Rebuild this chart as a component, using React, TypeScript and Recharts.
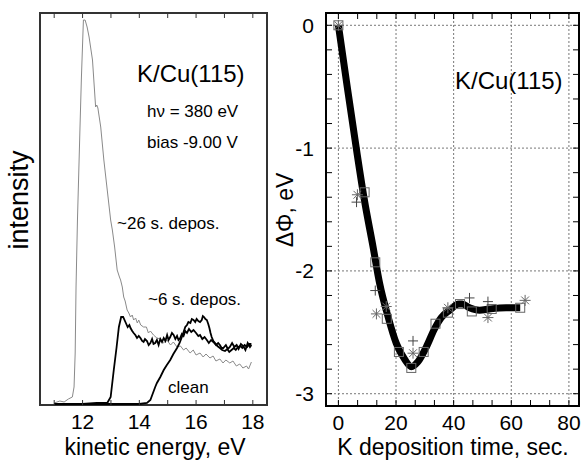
import React from 'react';
import {
  LineChart,
  Line,
  XAxis,
  YAxis,
  ComposedChart,
  Scatter,
  CartesianGrid,
  ReferenceArea,
} from 'recharts';

const FONT = '"Liberation Sans", Arial, Helvetica, sans-serif';

// ---- left panel: spectra, [kinetic energy eV, intensity arb.u.] ----
const energyTicks = [11, 12, 13, 14, 15, 16, 17, 18];
const energyDomain: [number, number] = [10.5, 18.5];
const intensityDomain: [number, number] = [0, 392];

const spec26s: [number, number][] = [
  [11.0, 2], [11.2, 4], [11.35, 3], [11.5, 6], [11.64, 8], [11.7, 18], [11.74, 52],
  [11.77, 118], [11.82, 185], [11.91, 278], [11.96, 328], [12.03, 385], [12.09, 385],
  [12.16, 378], [12.23, 368], [12.35, 345], [12.46, 298], [12.5, 300], [12.54, 297],
  [12.64, 278], [12.75, 245], [12.87, 215], [12.99, 185], [13.05, 175], [13.13, 158],
  [13.22, 135], [13.3, 128], [13.34, 125], [13.4, 118], [13.45, 108], [13.5, 104],
  [13.57, 95], [13.63, 92], [13.69, 88], [13.75, 90], [13.8, 85], [13.87, 87],
  [13.93, 82], [13.98, 85], [14.05, 80], [14.15, 78], [14.25, 78], [14.32, 72],
  [14.39, 74], [14.5, 70], [14.62, 67], [14.75, 66], [14.85, 62], [14.97, 65],
  [15.1, 60], [15.2, 63], [15.33, 58], [15.45, 59], [15.56, 55], [15.65, 57],
  [15.79, 52], [15.9, 55], [16.0, 50], [16.14, 52], [16.25, 48], [16.35, 51],
  [16.49, 47], [16.6, 49], [16.7, 44], [16.84, 46], [16.95, 42], [17.05, 45],
  [17.19, 42], [17.3, 44], [17.42, 39], [17.54, 41], [17.65, 37], [17.78, 39],
  [17.85, 36], [17.95, 43],
];

const spec6s: [number, number][] = [
  [11.0, 1], [11.5, 1], [12.0, 1], [12.5, 2], [12.87, 2], [12.99, 8], [13.1, 35],
  [13.2, 58], [13.28, 78], [13.36, 88], [13.43, 88], [13.51, 83], [13.59, 78],
  [13.65, 80], [13.69, 77], [13.75, 74], [13.8, 72], [13.86, 70], [13.92, 67],
  [13.98, 69], [14.04, 67], [14.1, 64], [14.15, 63], [14.2, 66], [14.27, 64],
  [14.33, 60], [14.39, 62], [14.45, 66], [14.5, 61], [14.56, 62], [14.62, 65],
  [14.68, 60], [14.74, 66], [14.8, 63], [14.86, 67], [14.92, 64], [14.98, 70],
  [15.03, 65], [15.09, 68], [15.15, 72], [15.21, 70], [15.27, 66], [15.33, 69],
  [15.38, 65], [15.44, 67], [15.5, 71], [15.56, 69], [15.62, 74], [15.68, 72],
  [15.75, 76], [15.83, 73], [15.91, 75], [16.0, 72], [16.08, 69], [16.14, 70],
  [16.22, 66], [16.3, 68], [16.38, 65], [16.45, 62], [16.53, 65], [16.61, 63],
  [16.7, 60], [16.78, 62], [16.84, 60], [16.9, 57], [16.96, 57], [17.05, 60],
  [17.12, 56], [17.19, 58], [17.27, 62], [17.35, 58], [17.43, 60], [17.5, 56],
  [17.58, 61], [17.66, 59], [17.74, 55], [17.82, 62], [17.9, 58], [17.95, 60],
];

const specClean: [number, number][] = [
  [11.0, 1], [12.0, 1], [13.0, 1], [14.0, 1], [14.27, 2], [14.39, 5], [14.56, 18],
  [14.62, 22], [14.74, 28], [14.86, 35], [14.97, 40], [15.09, 45], [15.2, 51],
  [15.33, 57], [15.42, 62], [15.5, 68], [15.56, 73], [15.62, 78], [15.68, 80],
  [15.73, 83], [15.8, 82], [15.85, 86], [15.91, 85], [15.97, 83], [16.02, 86],
  [16.08, 84], [16.14, 83], [16.2, 85], [16.24, 89], [16.28, 88], [16.33, 86],
  [16.38, 85], [16.43, 81], [16.47, 77], [16.51, 72], [16.55, 68], [16.61, 64],
  [16.67, 62], [16.75, 59], [16.84, 57], [16.92, 55], [17.02, 54], [17.1, 56],
  [17.17, 53], [17.25, 55], [17.33, 57], [17.4, 55], [17.48, 58], [17.56, 59],
  [17.63, 57], [17.71, 60], [17.8, 58], [17.88, 61], [17.95, 61],
];

// ---- right panel: work function change vs. K deposition time ----
const timeTicks = [0, 6.67, 13.33, 20, 26.67, 33.33, 40, 46.67, 53.33, 60, 66.67, 73.33, 80];
const timeGrid = [0, 20, 40, 60, 80];
const timeDomain: [number, number] = [-4.3, 83.5];
const phiTicks = [
  0, -0.2, -0.4, -0.6, -0.8, -1, -1.2, -1.4, -1.6, -1.8, -2,
  -2.2, -2.4, -2.6, -2.8, -3,
];
const phiGrid = [0, -1, -2, -3];
const phiDomain: [number, number] = [-3.1, 0.1];

const fitCurve: [number, number][] = [
  [0, 0], [3, -0.49], [6.2, -1.0], [9, -1.42], [12, -1.8], [14.3, -2.1],
  [17.2, -2.37], [20.1, -2.59], [23, -2.72], [25.3, -2.78], [27.6, -2.74],
  [30.5, -2.62], [33.4, -2.47], [35.7, -2.38], [38.6, -2.32], [41.8, -2.27],
  [43, -2.27], [45.5, -2.3], [49, -2.32], [52.4, -2.31], [58.2, -2.3], [63.1, -2.3],
];

const squarePts: [number, number][] = [
  [0, 0], [9.1, -1.36], [12.8, -1.93], [16.8, -2.39], [21.0, -2.66], [25.3, -2.79],
  [29.6, -2.66], [33.7, -2.43], [38.0, -2.34], [42.2, -2.27], [46.3, -2.33],
  [53.2, -2.31], [63.1, -2.3],
];
const plusPts: [number, number][] = [
  [6.3, -1.44], [12.8, -2.16], [25.9, -2.57], [45.5, -2.22], [51.9, -2.25],
];
const starPts: [number, number][] = [
  [0, 0], [6.6, -1.38], [13.2, -2.35], [16.6, -2.29], [25.9, -2.67], [38.0, -2.3],
  [51.9, -2.38], [64.8, -2.24],
];

const toPts = (a: [number, number][]) => a.map(([x, y]) => ({ x, y }));

const MARK = '#666';

const SquareMark = (p: any) => (
  <rect x={p.cx - 4.5} y={p.cy - 4.5} width={9} height={9} fill="none" stroke={MARK} strokeWidth={1} />
);
const PlusMark = (p: any) => (
  <path d={`M${p.cx - 5},${p.cy}H${p.cx + 5}M${p.cx},${p.cy - 5}V${p.cy + 5}`} stroke="#444" strokeWidth={1} fill="none" />
);
const StarMark = (p: any) => {
  const r = 5.5;
  const d = r * 0.7071;
  return (
    <path
      d={`M${p.cx - r},${p.cy}H${p.cx + r}M${p.cx},${p.cy - r}V${p.cy + r}` +
        `M${p.cx - d},${p.cy - d}L${p.cx + d},${p.cy + d}M${p.cx - d},${p.cy + d}L${p.cx + d},${p.cy - d}`}
      stroke={MARK}
      strokeWidth={1}
      fill="none"
    />
  );
};

// x tick: inward mark on bottom and top frame, label below (gnuplot style)
const makeXTick = (top: number, bottom: number, len: number, color: string, fmt: (v: number) => string) =>
  (p: any) => {
    const s = fmt(p.payload.value);
    return (
      <g>
        <line x1={p.x} x2={p.x} y1={bottom} y2={bottom - len} stroke={color} strokeWidth={1} />
        <line x1={p.x} x2={p.x} y1={top} y2={top + len} stroke={color} strokeWidth={1} />
        {s ? (
          <text x={p.x} y={bottom + 24} textAnchor="middle" fontSize={21} fontFamily={FONT} fill="#000">
            {s}
          </text>
        ) : null}
      </g>
    );
  };

// y tick: inward mark on left and right frame, label left of the frame
const makeYTick = (left: number, right: number, len: number, fmt: (v: number) => string) =>
  (p: any) => {
    const s = fmt(p.payload.value);
    return (
      <g>
        <line x1={left} x2={left + len} y1={p.y} y2={p.y} stroke="#000" strokeWidth={1} />
        <line x1={right} x2={right - len} y1={p.y} y2={p.y} stroke="#000" strokeWidth={1} />
        {s ? (
          <text x={left - 12} y={p.y + 7.5} textAnchor="end" fontSize={21} fontFamily={FONT} fill="#000">
            {s}
          </text>
        ) : null}
      </g>
    );
  };

const energyLabel = (v: number) => (v % 2 === 0 ? String(v) : '');
const timeLabel = (v: number) => (Math.abs(v / 20 - Math.round(v / 20)) < 1e-3 ? String(Math.round(v)) : '');
const phiLabel = (v: number) => (Math.abs(v - Math.round(v)) < 1e-6 ? String(Math.round(v)) : '');

function SpectraPanel() {
  // plot box: x 40..267, y 13..405
  return (
    <LineChart width={292} height={461} margin={{ top: 13, right: 25, left: 40, bottom: 26 }}>
      <XAxis
        dataKey="x"
        type="number"
        domain={energyDomain}
        allowDataOverflow
        ticks={energyTicks}
        interval={0}
        height={30}
        tickLine={false}
        axisLine={false}
        tick={makeXTick(13, 405, 5, '#333', energyLabel)}
      />
      <YAxis type="number" domain={intensityDomain} allowDataOverflow hide />
      <Line data={toPts(spec26s)} dataKey="y" type="linear" stroke="#8a8a8a" strokeWidth={1} dot={false} isAnimationActive={false} />
      <Line data={toPts(specClean)} dataKey="y" type="linear" stroke="#000" strokeWidth={1.8} dot={false} isAnimationActive={false} />
      <Line data={toPts(spec6s)} dataKey="y" type="linear" stroke="#000" strokeWidth={1.8} dot={false} isAnimationActive={false} />
      <ReferenceArea
        x1={energyDomain[0]}
        x2={energyDomain[1]}
        y1={intensityDomain[0]}
        y2={intensityDomain[1]}
        fill="none"
        stroke="#333"
        strokeWidth={2}
        ifOverflow="visible"
      />
    </LineChart>
  );
}

function WorkFunctionPanel() {
  // chart sits at page x=270; plot box: x 56..309 (page 326..579), y 13..406
  return (
    <ComposedChart width={314} height={461} margin={{ top: 13, right: 5, left: 0, bottom: 25 }}>
      <CartesianGrid
        stroke="#777"
        strokeDasharray="2 2"
        verticalValues={timeGrid}
        horizontalValues={phiGrid}
      />
      <XAxis
        dataKey="x"
        type="number"
        domain={timeDomain}
        allowDataOverflow
        ticks={timeTicks}
        interval={0}
        height={30}
        tickLine={false}
        axisLine={false}
        tick={makeXTick(13, 406, 6, '#000', timeLabel)}
      />
      <YAxis
        dataKey="y"
        type="number"
        domain={phiDomain}
        allowDataOverflow
        ticks={phiTicks}
        interval={0}
        width={56}
        tickLine={false}
        axisLine={false}
        tick={makeYTick(56, 309, 6, phiLabel)}
      />
      <Scatter data={toPts(squarePts)} dataKey="y" shape={SquareMark} isAnimationActive={false} />
      <Scatter data={toPts(plusPts)} dataKey="y" shape={PlusMark} isAnimationActive={false} />
      <Scatter data={toPts(starPts)} dataKey="y" shape={StarMark} isAnimationActive={false} />
      <Line data={toPts(fitCurve)} dataKey="y" type="monotone" stroke="#000" strokeWidth={7} dot={false} isAnimationActive={false} />
      <ReferenceArea
        x1={timeDomain[0]}
        x2={timeDomain[1]}
        y1={phiDomain[0]}
        y2={phiDomain[1]}
        fill="none"
        stroke="#000"
        strokeWidth={2}
        ifOverflow="visible"
      />
    </ComposedChart>
  );
}

export default function App() {
  const txt = { fontFamily: FONT, fill: '#000' };
  return (
    <div style={{ position: 'absolute', left: 0, top: 0, width: 584, height: 461, background: '#fff' }}>
      <div style={{ position: 'absolute', left: 0, top: 0 }}>
        <SpectraPanel />
      </div>
      <div style={{ position: 'absolute', left: 270, top: 0 }}>
        <WorkFunctionPanel />
      </div>
      <svg width={584} height={461} style={{ position: 'absolute', left: 0, top: 0, pointerEvents: 'none' }}>
        <g style={txt}>
          <text x={137} y={82} fontSize={24}>K/Cu(115)</text>
          <text x={147} y={117} fontSize={17}>hν = 380 eV</text>
          <text x={147} y={148} fontSize={17}>bias -9.00 V</text>
          <text x={117} y={229} fontSize={17}>~26 s. depos.</text>
          <text x={148} y={305} fontSize={17}>~6 s. depos.</text>
          <text x={168} y={393} fontSize={17}>clean</text>
          <text x={28} y={200} fontSize={27} textAnchor="middle" transform="rotate(-90 28 200)">intensity</text>
          <text x={155} y={455} fontSize={23} textAnchor="middle">kinetic energy, eV</text>
          <text x={455} y={89} fontSize={24}>K/Cu(115)</text>
          <text x={293} y={210} fontSize={23} textAnchor="middle" transform="rotate(-90 293 210)">ΔΦ, eV</text>
          <text x={453} y={455} fontSize={23} textAnchor="middle">K deposition time, sec.</text>
        </g>
      </svg>
    </div>
  );
}
